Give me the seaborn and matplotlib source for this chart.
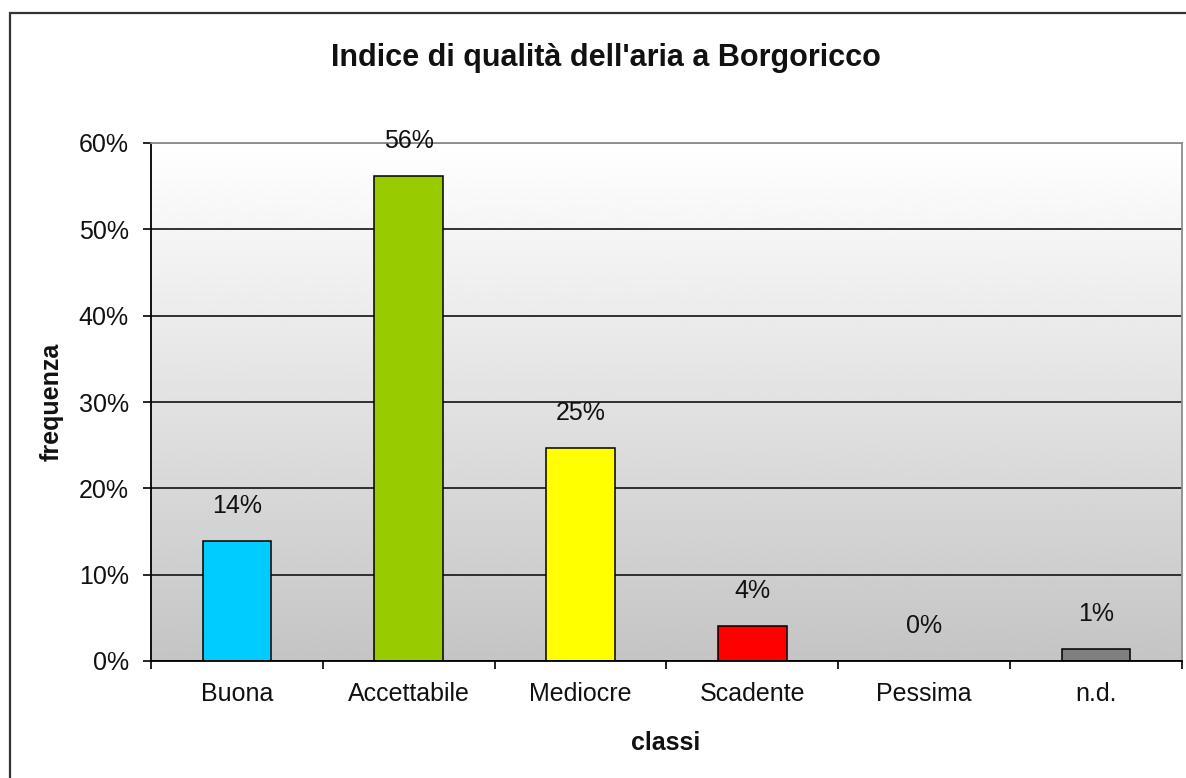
#!/usr/bin/env python3
# -*- coding: utf-8 -*-
# bar chart: indice di qualita' dell'aria a Borgoricco

import numpy as np
import matplotlib
matplotlib.use('Agg')
import matplotlib.pyplot as plt
import matplotlib.patches as patches
from matplotlib.ticker import PercentFormatter, FixedLocator
import seaborn as sns

# data
classi = ['Buona', 'Accettabile', 'Mediocre', 'Scadente', 'Pessima', 'n.d.']
frequenza = [0.139, 0.562, 0.247, 0.041, 0.0, 0.014]
etichette = ['14%', '56%', '25%', '4%', '0%', '1%']
colori = ['#00CCFF', '#99CC00', '#FFFF00', '#FF0000', '#800080', '#808080']
yticks = [0.0, 0.1, 0.2, 0.3, 0.4, 0.5, 0.6]

sns.set_style('white')
plt.rcParams['font.family'] = ['Liberation Sans', 'DejaVu Sans']

W, H = 1186, 778
fig = plt.figure(figsize=(W / 100, H / 100), dpi=100)
ax = fig.add_axes([151 / W, (H - 661) / H, (1182 - 151) / W, (661 - 143) / H])

# gradient background of the plot area (white at top, grey at bottom)
grad = np.linspace(0.77, 1.0, 256).reshape(-1, 1)
ax.imshow(grad, cmap='gray', vmin=0, vmax=1, origin='lower', aspect='auto',
          extent=(-0.5, len(classi) - 0.5, 0, yticks[-1]), zorder=0)

sns.barplot(x=classi, y=frequenza, hue=classi, palette=colori, legend=False,
            width=0.4, edgecolor='black', linewidth=1.1, saturation=1, ax=ax, zorder=2)

ax.set_xlim(-0.5, len(classi) - 0.5)
ax.set_ylim(0, yticks[-1])

# grid lines
ax.set_yticks(yticks)
ax.yaxis.grid(True, color='#222222', linewidth=1.3)
ax.set_axisbelow(True)
ax.yaxis.get_gridlines()[-1].set_color('#8c8c8c')
ax.yaxis.set_major_formatter(PercentFormatter(1.0, decimals=0))

# spines
for s in ['left', 'bottom']:
    ax.spines[s].set_color('black')
    ax.spines[s].set_linewidth(1.3)
for s in ['top', 'right']:
    ax.spines[s].set_color('#8c8c8c')
    ax.spines[s].set_linewidth(1.3)

# ticks
ax.tick_params(axis='y', direction='out', length=6, width=1.2, color='black',
               left=True, pad=10, labelsize=18, labelcolor='#111111')
ax.tick_params(axis='x', which='major', length=0, pad=15, labelsize=18,
               labelcolor='#111111')
ax.xaxis.set_minor_locator(FixedLocator(np.arange(len(classi) + 1) - 0.5))
ax.tick_params(axis='x', which='minor', direction='out', length=6, width=1.2,
               color='black', bottom=True)
ax.set_xlabel('')
ax.set_ylabel('')

# value labels above the bars
for i, v in enumerate(frequenza):
    ax.text(i, v + 0.04, etichette[i], ha='center', va='center', fontsize=18,
            color='#111111', zorder=3)

# titles
fig.text(606 / W, 1 - 58 / H, "Indice di qualità dell'aria a Borgoricco",
         ha='center', va='center', fontsize=22, fontweight='bold', color='#111111')
fig.text(52 / W, 1 - 402 / H, 'frequenza', rotation=90, ha='center', va='center',
         fontsize=18, fontweight='bold', color='#111111')
fig.text(666 / W, 1 - 743 / H, 'classi', ha='center', va='center',
         fontsize=18, fontweight='bold', color='#111111')

# chart frame, cut by the picture edges on the right and at the bottom
fig.add_artist(patches.Rectangle((10 / W, -0.1), 1.2, 1 - 13 / H + 0.1,
                                 transform=fig.transFigure, fill=False,
                                 edgecolor='#333333', linewidth=1.6, clip_on=False))

fig.savefig('out.png', dpi=100, facecolor='white')
